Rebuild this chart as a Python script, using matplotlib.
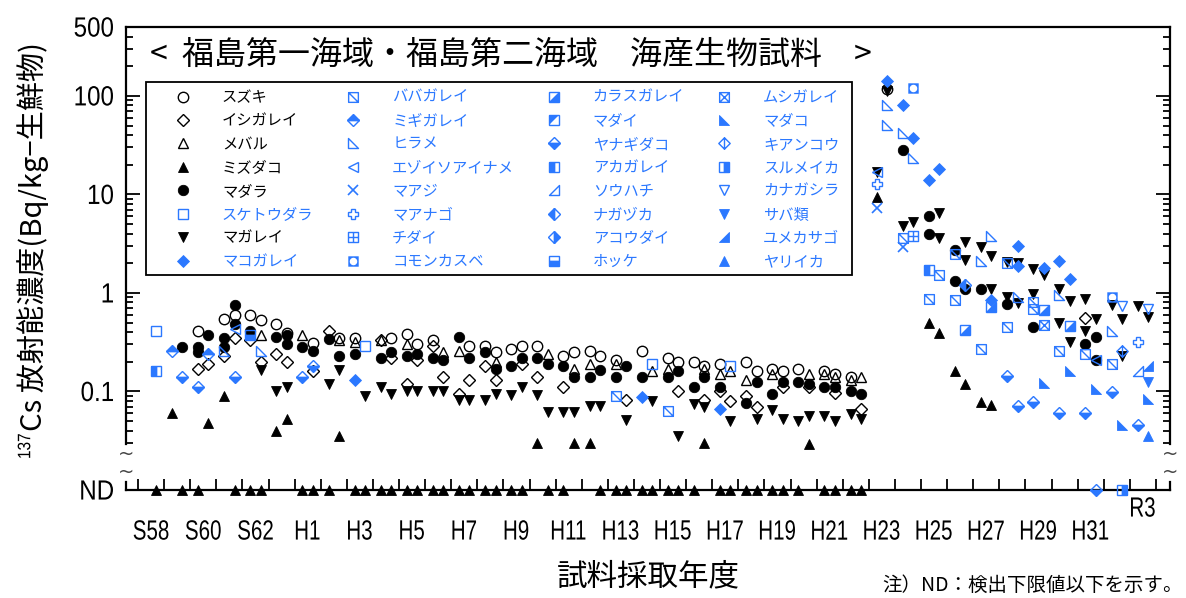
import matplotlib
matplotlib.use('Agg')
import matplotlib.pyplot as plt
from matplotlib.path import Path
from matplotlib.patches import Rectangle, PathPatch
from matplotlib.textpath import TextPath
from matplotlib.transforms import Affine2D
from matplotlib.font_manager import FontProperties
from matplotlib.ticker import FixedLocator, NullFormatter
import numpy as np

JP = 'Noto Sans CJK JP'
plt.rcParams['font.family'] = [JP, 'DejaVu Sans']

BLUE = '#2b78ff'
ND_LEVEL = 0.01   # where "ND" sits on the axis

# ---- data: sampling time (fiscal year + .3 first half / .7 second half), Bq/kg, 0 = ND
suzuki_t = [1985.3, 1986.3, 1986.7, 1987.3, 1987.7, 1988.3, 1988.7, 1989.7, 1990.7, 1991.3,
            1992.7, 1993.3, 1993.7, 1994.3, 1995.7, 1996.3, 1996.7, 1997.3, 1997.7, 1998.3,
            1999.3, 1999.7, 2000.3, 2000.7, 2001.3, 2002.3, 2003.3, 2003.7, 2004.3, 2004.7,
            2005.3, 2006.3, 2006.7, 2007.3, 2007.7, 2008.3, 2009.3, 2009.7, 2010.3, 2011.7]
suzuki_v = [0.41, 0.55, 0.60, 0.60, 0.53, 0.48, 0.39, 0.31, 0.35, 0.35,
            0.35, 0.38, 0.30, 0.33, 0.29, 0.29, 0.25, 0.27, 0.29, 0.29,
            0.23, 0.25, 0.26, 0.23, 0.21, 0.26, 0.22, 0.20, 0.20, 0.18,
            0.19, 0.20, 0.16, 0.17, 0.16, 0.17, 0.16, 0.15, 0.14, 118]

ishigarei_t = [1985.3, 1985.7, 1986.3, 1986.7, 1987.3, 1987.7, 1988.3, 1988.7, 1989.7, 1990.3,
               1992.3, 1992.7, 1993.3, 1993.7, 1994.3, 1994.7, 1995.3, 1995.7, 1996.3, 1996.7,
               1997.7, 1998.3, 1999.3, 2001.7, 2003.7, 2004.7, 2005.3, 2005.7, 2006.3, 2006.7,
               2007.7, 2008.7, 2009.7, 2010.7, 2019.3]
ishigarei_v = [0.17, 0.19, 0.23, 0.35, 0.33, 0.20, 0.24, 0.20, 0.16, 0.41,
               0.33, 0.22, 0.12, 0.21, 0.29, 0.14, 0.095, 0.13, 0.18, 0.13,
               0.19, 0.14, 0.11, 0.081, 0.10, 0.081, 0.10, 0.08, 0.09, 0.07,
               0.11, 0.11, 0.097, 0.066, 0.56]

mebaru_t = [1987.7, 1989.3, 1990.7, 1991.3, 1992.3, 1993.3, 1994.7, 1995.3, 1996.7, 1998.7,
            1999.7, 2000.3, 2001.3, 2002.7, 2003.3, 2004.7, 2005.3, 2005.7, 2006.3, 2007.3,
            2008.7, 2009.3, 2009.7, 2010.3, 2010.7]
mebaru_v = [0.375, 0.37, 0.33, 0.32, 0.33, 0.30, 0.25, 0.26, 0.20, 0.24,
            0.17, 0.19, 0.19, 0.16, 0.17, 0.17, 0.15, 0.16, 0.13, 0.15,
            0.15, 0.15, 0.14, 0.13, 0.14]

mizudako_t = [1984.3, 1985.7, 1986.3, 1988.3, 1988.7, 1990.7, 1998.3, 1999.7, 2000.3, 2004.7,
              2008.7, 2011.3, 2013.3, 2013.7, 2014.3, 2014.7, 2015.3, 2015.7,
              1983.7, 1984.7, 1985.3, 1986.7, 1987.3, 1987.7, 1989.3, 1989.7, 1990.3, 1991.3,
              1991.7, 1992.3, 1992.7, 1993.3, 1993.7, 1994.3, 1994.7, 1995.3, 1995.7, 1996.3,
              1996.7, 1997.3, 1997.7, 1998.7, 1999.3, 2000.7, 2001.3, 2001.7, 2002.3, 2002.7,
              2003.3, 2003.7, 2004.3, 2005.3, 2005.7, 2006.3, 2006.7, 2007.3, 2007.7, 2008.3,
              2009.3, 2009.7, 2010.3, 2010.7]
mizudako_v = [0.060, 0.048, 0.09, 0.04, 0.053, 0.035, 0.03, 0.03, 0.03, 0.03,
              0.029, 9.5, 0.49, 0.395, 0.16, 0.12, 0.079, 0.073,
              0, 0, 0, 0, 0, 0, 0, 0, 0, 0,
              0, 0, 0, 0, 0, 0, 0, 0, 0, 0,
              0, 0, 0, 0, 0, 0, 0, 0, 0, 0,
              0, 0, 0, 0, 0, 0, 0, 0, 0, 0,
              0, 0, 0, 0]

madara_t = [1984.7, 1985.3, 1985.3, 1985.7, 1986.3, 1986.3, 1986.7, 1986.7, 1987.3, 1988.3,
            1988.7, 1988.7, 1989.3, 1989.7, 1990.3, 1990.7, 1991.3, 1992.3, 1992.7, 1993.3,
            1993.7, 1994.3, 1994.7, 1995.3, 1995.7, 1996.3, 1996.7, 1997.3, 1997.7, 1998.3,
            1998.7, 1999.3, 1999.7, 2000.3, 2000.7, 2001.3, 2001.7, 2002.3, 2003.3, 2003.7,
            2004.3, 2004.7, 2005.3, 2006.3, 2006.7, 2007.3, 2007.7, 2008.3, 2008.7, 2009.3,
            2009.7, 2010.3, 2010.7, 2012.3, 2013.3, 2013.3, 2014.3, 2014.3, 2014.7, 2015.3,
            2016.3, 2017.3, 2019.3, 2019.7, 2019.7]
madara_v = [0.28, 0.28, 0.25, 0.375, 0.35, 0.28, 0.75, 0.48, 0.41, 0.36,
            0.37, 0.30, 0.28, 0.26, 0.34, 0.23, 0.24, 0.22, 0.25, 0.23,
            0.24, 0.22, 0.21, 0.36, 0.22, 0.25, 0.17, 0.18, 0.22, 0.22,
            0.19, 0.18, 0.14, 0.14, 0.165, 0.14, 0.18, 0.14, 0.14, 0.16,
            0.11, 0.14, 0.11, 0.077, 0.125, 0.095, 0.125, 0.125, 0.12, 0.11,
            0.11, 0.10, 0.094, 28, 6.05, 3.95, 2.7, 1.32, 1.1, 1.1,
            0.78, 0.45, 0.30, 0.36, 0.21]

sketoudara_t = [1983.7, 1991.7, 2002.7, 2005.7]
sketoudara_v = [0.41, 0.29, 0.19, 0.18]

magarei_t = [1987.7, 1988.3, 1988.7, 1990.3, 1990.7, 1991.7, 1992.3, 1992.7, 1993.3, 1993.7,
             1994.3, 1994.7, 1995.3, 1995.7, 1996.3, 1996.7, 1997.3, 1997.7, 1998.3, 1998.7,
             1999.3, 1999.7, 2000.3, 2000.7, 2001.7, 2002.7, 2003.7, 2004.3, 2004.7, 2005.7,
             2006.7, 2007.3, 2007.7, 2008.3, 2008.7, 2009.3, 2009.7, 2010.3, 2010.7, 2011.3,
             2011.7, 2012.3, 2012.7, 2013.7, 2013.7, 2014.7, 2014.7, 2015.3, 2015.7, 2015.7,
             2016.3, 2016.3, 2016.7, 2016.7, 2017.3, 2017.3, 2017.7, 2018.3, 2018.3, 2018.7,
             2018.7, 2019.3, 2019.3, 2019.7, 2020.3, 2020.7, 2020.7, 2021.3, 2021.7]
magarei_v = [0.165, 0.10, 0.11, 0.12, 0.165, 0.091, 0.11, 0.094, 0.10, 0.10,
             0.10, 0.10, 0.081, 0.081, 0.081, 0.094, 0.092, 0.11, 0.092, 0.062,
             0.062, 0.062, 0.072, 0.072, 0.051, 0.080, 0.035, 0.074, 0.07, 0.05,
             0.053, 0.065, 0.052, 0.05, 0.056, 0.057, 0.05, 0.059, 0.053, 17,
             113, 4.8, 5.3, 6.45, 3.65, 3.3, 2.14, 2.95, 2.37, 1.1,
             2.05, 0.92, 2.0, 0.79, 1.74, 0.98, 1.51, 1.1, 0.49, 0.83,
             0.316, 0.875, 0.41, 0.54, 0.75, 0.55, 0.23, 0.74, 0.57]

makogarei_t = [1991.3, 2002.3, 2005.3, 2011.7, 2012.3, 2012.7, 2013.3, 2013.7, 2015.7, 2016.7,
               2016.7, 2017.7, 2018.3, 2018.7]
makogarei_v = [0.13, 0.087, 0.066, 143, 80, 37, 14.1, 18.1, 0.85, 3.0,
               1.88, 1.8, 2.1, 1.4]

babagarei_t = [2001.3, 2003.3, 2012.3, 2013.3, 2013.7, 2014.3, 2014.3, 2015.3, 2016.3, 2016.3,
               2017.3, 2017.3, 2018.3, 2019.3, 2020.3]
babagarei_v = [0.091, 0.064, 3.65, 0.875, 1.51, 2.5, 0.85, 0.27, 2.0, 0.45,
               0.81, 0.69, 0.26, 0.24, 0.19]

migigarei_t = [1984.3, 1985.7]
migigarei_v = [0.256, 0.24]

hirame_t = [1986.3, 1987.7, 2011.7, 2011.7, 2012.3, 2012.7, 2015.3, 2015.7, 2016.7, 2018.3, 2020.3]
hirame_v = [0.26, 0.26, 80, 51, 42, 23.4, 2.1, 3.8, 0.92, 0.96, 0.41]

ezoiso_t = [1986.7, 2011.3, 2019.7]
ezoiso_v = [0.43, 17, 0.21]

maaji_t = [2011.3, 2012.3]
maaji_v = [7.3, 2.9]

maanago_t = [2011.3, 2021.3]
maanago_v = [12.9, 0.32]

chidai_t = [2012.7]
chidai_v = [3.74]

komon_t = [2012.7, 2020.3]
komon_v = [120, 0.92]

karasu_t = [2014.7, 2015.7, 2017.7, 2018.7]
karasu_v = [0.42, 0.72, 0.67, 0.46]

madai_t = []
madai_v = []

yanagidako_t = [1984.7, 1985.3, 1986.7, 1989.3, 1989.7, 2016.3, 2016.7, 2017.3, 2018.3, 2019.3,
                2019.7, 2020.3, 2021.3]
yanagidako_v = [0.14, 0.11, 0.14, 0.14, 0.18, 0.143, 0.071, 0.079, 0.06, 0.06,
                0, 0.099, 0.046]

akagarei_t = [1983.7, 2013.3]
akagarei_v = [0.163, 1.71]

souhachi_t = [2021.3]
souhachi_v = [0.16]

nagazuka_t = [2014.7]
nagazuka_v = [1.2]

akoudai_t = []
akoudai_v = []

hokke_t = [1987.3]
hokke_v = [0.37]

mushigarei_t = [2017.7]
mushigarei_v = [0.47]

madako_t = [2017.7, 2018.7, 2019.7, 2020.7, 2021.7]
madako_v = [0.123, 0.16, 0.105, 0.046, 0.083]

kiankou_t = [2020.7]
kiankou_v = [0.26]

surumeika_t = [2020.7]
surumeika_v = [0]

kanagashira_t = [2020.7, 2021.7]
kanagashira_v = [0.74, 0.68]

saba_t = [2021.7]
saba_v = [0.124]

yumekasago_t = [2021.7]
yumekasago_v = [0.18]

yariika_t = [2021.7]
yariika_v = [0.035]

era_years = list(range(1983, 2020, 2))
era_labels = ['S58', 'S60', 'S62', 'H1', 'H3', 'H5', 'H7', 'H9', 'H11', 'H13',
              'H15', 'H17', 'H19', 'H21', 'H23', 'H25', 'H27', 'H29', 'H31']
y_ticks = [ND_LEVEL, 0.1, 1, 10, 100, 500]
y_ticklabels = ['ND', '0.1', '1', '10', '100', '500']

# ---- marker shapes
M, L, C = Path.MOVETO, Path.LINETO, Path.CLOSEPOLY


def shape(*rings, lines=()):
    verts, codes = [], []
    for r in rings:
        verts += list(r) + [r[0]]
        codes += [M] + [L] * (len(r) - 1) + [C]
    for a, b in lines:
        verts += [a, b]
        codes += [M, L]
    return Path(verts, codes)


SQ = [(-1, -1), (1, -1), (1, 1), (-1, 1)]
DM = [(0, 1), (1, 0), (0, -1), (-1, 0)]
ang = np.linspace(0, 2 * np.pi, 33)[:-1]
HOLE = [(0.72 * np.cos(a), -0.72 * np.sin(a)) for a in ang]

sq_diag = shape(SQ, lines=[((-1, 1), (1, -1))])
sq_x = shape(SQ, lines=[((-1, 1), (1, -1)), ((-1, -1), (1, 1))])
sq_plus = shape(SQ, lines=[((0, 1), (0, -1)), ((-1, 0), (1, 0))])
sq_hole = shape(SQ, HOLE)
dm_bar = shape(DM, lines=[((0, 1), (0, -1))])
tri_bl = shape([(-1, 1), (-1, -1), (1, -1)])
tri_br = shape([(1, 1), (1, -1), (-1, -1)])
tri_ul = shape([(-1, -1), (-1, 1), (1, 1)])


def op(marker, ms=7.5, **kw):
    d = dict(marker=marker, ms=ms, mfc='none', mew=1.0)
    d.update(kw)
    return d


def fl(marker, ms=7.5, c='black', **kw):
    d = dict(marker=marker, ms=ms, mfc=c, mew=0.6)
    d.update(kw)
    return d


def half(marker, side, ms):
    return dict(marker=marker, ms=ms, mfc=BLUE, mfcalt='none', fillstyle=side, mew=1.0)


K = 'black'
species = [
    ('スズキ', K, suzuki_t, suzuki_v, [op('o', 7.5)]),
    ('イシガレイ', K, ishigarei_t, ishigarei_v, [op('D', 5.8)]),
    ('メバル', K, mebaru_t, mebaru_v, [op('^', 7.5)]),
    ('ミズダコ', K, mizudako_t, mizudako_v, [fl('^', 7.5)]),
    ('マダラ', K, madara_t, madara_v, [fl('o', 7.5)]),
    ('スケトウダラ', BLUE, sketoudara_t, sketoudara_v, [op('s', 7)]),
    ('マガレイ', K, magarei_t, magarei_v, [fl('v', 7.5)]),
    ('マコガレイ', BLUE, makogarei_t, makogarei_v, [fl('D', 5.8, BLUE)]),
    ('ババガレイ', BLUE, babagarei_t, babagarei_v, [op(sq_diag, 7)]),
    ('ミギガレイ', BLUE, migigarei_t, migigarei_v, [half('D', 'top', 5.8)]),
    ('ヒラメ', BLUE, hirame_t, hirame_v, [op(tri_bl, 7)]),
    ('エゾイソアイナメ', BLUE, ezoiso_t, ezoiso_v, [op('<', 7.5)]),
    ('マアジ', BLUE, maaji_t, maaji_v, [op('x', 7, mew=1.2)]),
    ('マアナゴ', BLUE, maanago_t, maanago_v, [op('P', 7.5)]),
    ('チダイ', BLUE, chidai_t, chidai_v, [op(sq_plus, 7)]),
    ('コモンカスベ', BLUE, komon_t, komon_v, [fl(sq_hole, 7.5, BLUE, mew=0)]),
    ('カラスガレイ', BLUE, karasu_t, karasu_v, [op('s', 7), fl(tri_br, 7, BLUE, mew=0)]),
    ('マダイ', BLUE, madai_t, madai_v, [op('s', 7), fl(tri_ul, 7, BLUE, mew=0)]),
    ('ヤナギダコ', BLUE, yanagidako_t, yanagidako_v, [half('D', 'bottom', 5.8)]),
    ('アカガレイ', BLUE, akagarei_t, akagarei_v, [half('s', 'left', 7)]),
    ('ソウハチ', BLUE, souhachi_t, souhachi_v, [op(tri_br, 7)]),
    ('ナガヅカ', BLUE, nagazuka_t, nagazuka_v, [half('D', 'left', 5.8)]),
    ('アコウダイ', BLUE, akoudai_t, akoudai_v, [half('D', 'right', 5.8)]),
    ('ホッケ', BLUE, hokke_t, hokke_v, [half('s', 'bottom', 7)]),
    ('ムシガレイ', BLUE, mushigarei_t, mushigarei_v, [op(sq_x, 7)]),
    ('マダコ', BLUE, madako_t, madako_v, [fl(tri_bl, 7, BLUE)]),
    ('キアンコウ', BLUE, kiankou_t, kiankou_v, [op(dm_bar, 8.2)]),
    ('スルメイカ', BLUE, surumeika_t, surumeika_v, [half('s', 'right', 7)]),
    ('カナガシラ', BLUE, kanagashira_t, kanagashira_v, [op('v', 7.5)]),
    ('サバ類', BLUE, saba_t, saba_v, [fl('v', 7.5, BLUE)]),
    ('ユメカサゴ', BLUE, yumekasago_t, yumekasago_v, [fl(tri_br, 7, BLUE)]),
    ('ヤリイカ', BLUE, yariika_t, yariika_v, [fl('^', 7.5, BLUE)]),
]

W, H = 1186, 598
fig = plt.figure(figsize=(W / 100, H / 100), dpi=100)
ax = fig.add_axes([126 / W, 1 - 490 / H, (1170 - 126) / W, (490 - 27) / H])
ax.set_yscale('log')
ax.set_ylim(ND_LEVEL, 500)
ax.set_xlim(1982.54, 2022.54)

handles, labels, colors = [], [], []
for name, col, t, v, layers in species:
    y = [val if val > 0 else ND_LEVEL for val in v]
    hs = []
    for lay in layers:
        h, = ax.plot(t, y, ls='none', color=col, mec=col, clip_on=False, zorder=3, **lay)
        hs.append(h)
    handles.append(tuple(hs) if len(hs) > 1 else hs[0])
    labels.append(name)
    colors.append(col)

# ---- axes styling
for s in ax.spines.values():
    s.set_linewidth(1.6)
ax.spines['left'].set_bounds(0.029, 500)
ax.spines['right'].set_bounds(0.029, 500)

ax.yaxis.set_major_locator(FixedLocator(y_ticks))
ax.yaxis.set_major_formatter(NullFormatter())
minor = [m * 10.0 ** e for e in range(-2, 3) for m in range(2, 10) if 0.029 < m * 10.0 ** e < 500]
ax.yaxis.set_minor_locator(FixedLocator(minor))
ax.yaxis.set_minor_formatter(NullFormatter())
ax.tick_params(axis='y', which='both', direction='in', left=True, right=True, width=1.3)
ax.tick_params(axis='y', which='major', length=10)
ax.tick_params(axis='y', which='minor', length=5)

ax.set_xticks([y + 0.5 for y in era_years])
ax.xaxis.set_major_formatter(NullFormatter())
ax.xaxis.set_minor_locator(FixedLocator(list(range(1983, 2023))))
ax.tick_params(axis='x', which='major', length=0)
ax.tick_params(axis='x', which='minor', direction='in', length=8, width=1.3)

# condensed tick labels (the original uses a narrow gothic face)
NARROW_FP = FontProperties(family='Liberation Sans')


def narrow_text(dx, dy, s, size, sx, ha='center', rot=0):
    tp = TextPath((0, 0), s, size=size, prop=NARROW_FP)
    e = tp.get_extents()
    ox = {'center': -(e.x0 + e.x1) / 2, 'right': -e.x1, 'left': -e.x0}[ha]
    oy = -(e.y0 + e.y1) / 2
    k = fig.dpi / 72
    tr = Affine2D().translate(ox, oy).scale(sx * k, k).rotate_deg(rot).translate(dx, dy)
    fig.add_artist(PathPatch(tp, transform=tr, fc='black', lw=0))


for val, lab in zip(y_ticks, y_ticklabels):
    py = ax.transData.transform((2000, val))[1]
    narrow_text(113, py, lab, 20, 0.87, ha='right')
for yr, lab in zip(era_years, era_labels):
    px = ax.transData.transform((yr + 0.5, 1))[0]
    narrow_text(px, H - 530, lab, 20, 0.74)
narrow_text(ax.transData.transform((2021.5, 1))[0], H - 507, 'R3', 20, 0.74)

# axis break marks and short stubs at ND
tr = ax.get_yaxis_transform()
for xa in (0, 1):
    ax.plot([xa, xa], [ND_LEVEL, 0.0121], transform=tr, color='black', lw=1.6, clip_on=False)
    for yb in (0.0228, 0.0153):
        ax.text(xa, yb, '~', transform=tr, ha='center', va='center', fontsize=14,
                family='DejaVu Sans', color='#444444')

# ---- texts
fig.text(150 / W, 1 - 55 / H, '<  福島第一海域・福島第二海域\u3000海産生物試料\u3000>',
         ha='left', va='center', fontsize=23)
fig.text(33 / W, 1 - 431 / H, 'Cs 放射能濃度(Bq/kg−生鮮物)', rotation=90,
         ha='center', va='bottom', fontsize=21)
narrow_text(24, H - 446, '137', 13, 0.85, rot=90)
fig.text(648 / W, 1 - 577 / H, '試料採取年度', ha='center', va='center', fontsize=22)
fig.text(1183 / W, 1 - 585 / H, '注）ND：検出下限値以下を示す。', ha='right', va='center',
         fontsize=14)

# ---- legend
fig.add_artist(Rectangle((146 / W, 1 - 275 / H), (852 - 146) / W, (275 - 82) / H,
                         transform=fig.transFigure, fill=False, lw=1.3, ec='black'))
leg = ax.legend(handles, labels, ncol=4, loc='upper left', bbox_to_anchor=(167.7 / W, 1 - 89 / H),
                bbox_transform=fig.transFigure, frameon=False, fontsize=11,
                handlelength=2.0, handletextpad=1.55, columnspacing=1.6,
                labelspacing=0.42, borderpad=0, borderaxespad=0)
for txt, col in zip(leg.get_texts(), colors):
    txt.set_color(col)

fig.savefig('out.png', dpi=100)
